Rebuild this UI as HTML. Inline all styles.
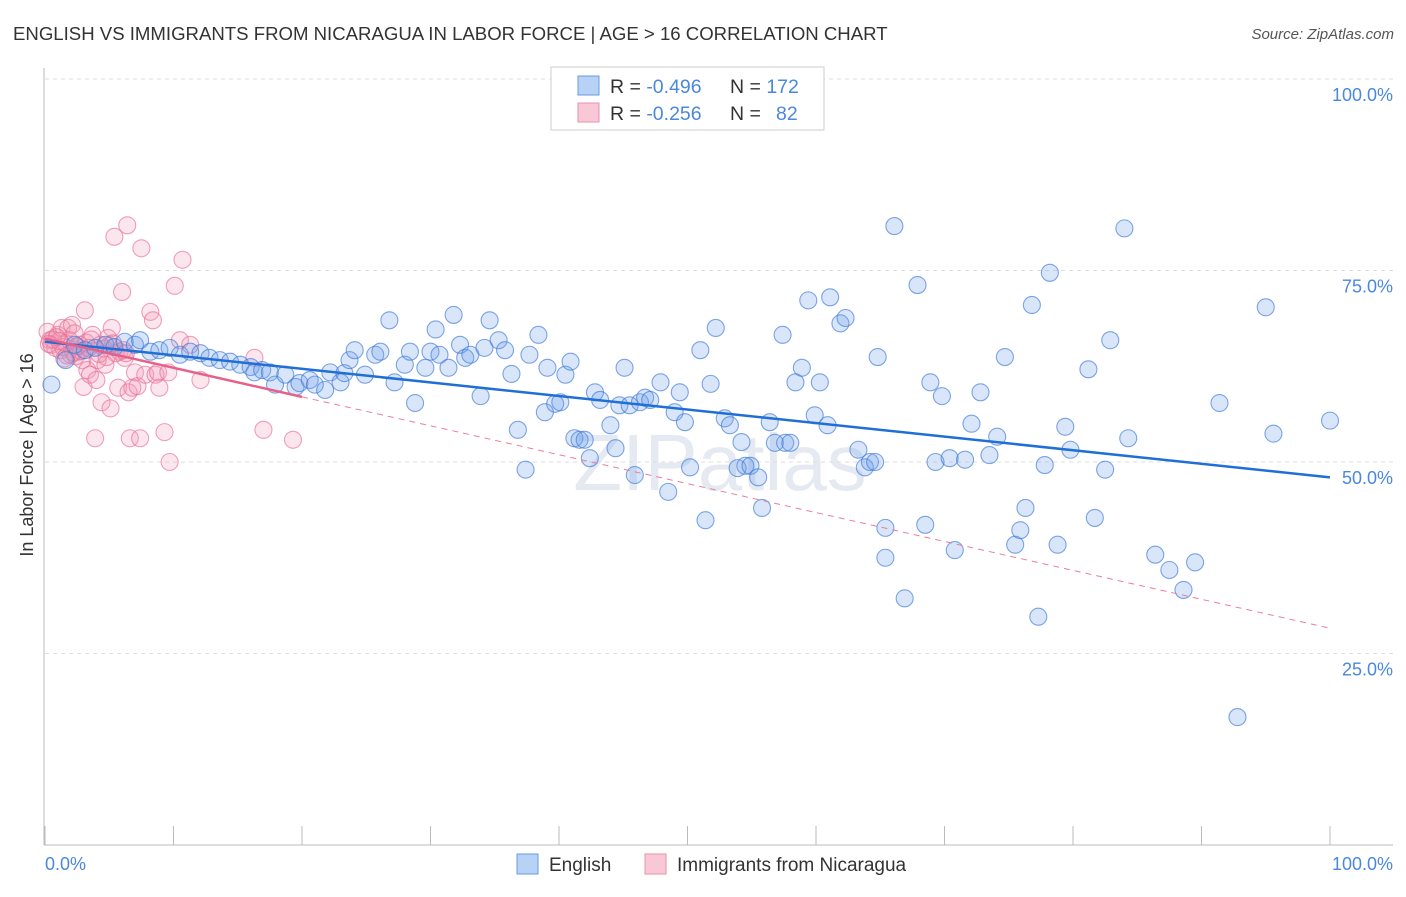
<!DOCTYPE html>
<html><head><meta charset="utf-8"><style>
body{margin:0;background:#fff;font-family:"Liberation Sans",sans-serif}
svg text{font-family:"Liberation Sans",sans-serif}
</style></head><body>
<svg id="chart" width="1406" height="892" viewBox="0 0 1406 892" xmlns="http://www.w3.org/2000/svg">
<text x="13" y="40" font-size="18.6" fill="#333">ENGLISH VS IMMIGRANTS FROM NICARAGUA IN LABOR FORCE | AGE &gt; 16 CORRELATION CHART</text>
<text x="1394" y="39" font-size="15" fill="#555" text-anchor="end" font-style="italic">Source: ZipAtlas.com</text>
<text x="720" y="490" font-size="80" fill="#ccd6e6" opacity="0.5" text-anchor="middle" font-family="Liberation Serif">ZIPatlas</text>
<g id="grid"></g>
<g id="axes"></g>
<g id="pts"></g>
<g id="trends"></g>
<text transform="translate(33,455) rotate(-90)" font-size="18" fill="#333" text-anchor="middle">In Labor Force | Age &gt; 16</text>
<text x="45" y="870" font-size="18" fill="#4a88de">0.0%</text>
<text x="1393" y="870" font-size="18" fill="#4a88de" text-anchor="end">100.0%</text>
<g>
<rect x="551" y="67" width="273" height="63" fill="#fff" stroke="#ccc"/>
<rect x="578" y="76" width="21" height="19" fill="#b8d2f5" stroke="#6a9ae0"/>
<rect x="578" y="103" width="21" height="19" fill="#f8c8d6" stroke="#ec8fae"/>
<text x="610" y="93" font-size="19.5" fill="#333">R = <tspan fill="#4a88de">-0.496</tspan><tspan x="730">N = </tspan><tspan fill="#4a88de">172</tspan></text>
<text x="610" y="120" font-size="19.5" fill="#333">R = <tspan fill="#4a88de">-0.256</tspan><tspan x="730">N = </tspan><tspan fill="#4a88de" x="776">82</tspan></text>
</g>
<g>
<rect x="517" y="854" width="21" height="20" fill="#b8d2f5" stroke="#6a9ae0"/>
<text x="549" y="871" font-size="19" fill="#333">English</text>
<rect x="645" y="854" width="21" height="20" fill="#f8c8d6" stroke="#ec8fae"/>
<text x="677" y="871" font-size="19" fill="#333">Immigrants from Nicaragua</text>
</g>
</svg>
<script>
const yTicks=[25,50,75,100];
const yTickLabels=["25.0%","50.0%","75.0%","100.0%"];
const englishX=[0.5,1.6,2.3,3.1,3.9,4.7,5.4,6.2,7.0,7.4,8.2,8.9,9.7,10.5,11.3,12.1,12.8,13.6,14.4,15.2,16.0,16.3,16.9,17.5,17.9,18.7,19.5,19.8,20.6,21.0,21.8,22.2,23.0,23.3,23.7,24.1,24.9,25.7,26.1,26.8,27.2,28.0,28.4,28.8,29.6,30.0,30.4,30.7,31.4,31.8,32.3,32.7,33.1,33.9,34.2,34.6,35.3,35.8,36.3,36.8,37.4,37.7,38.4,38.9,39.1,39.7,40.1,40.5,40.9,41.2,41.6,42.0,42.4,42.8,43.2,44.0,44.4,44.7,45.1,45.5,45.9,46.3,46.7,47.1,47.9,48.5,49.0,49.4,49.8,50.2,51.0,51.4,51.8,52.2,52.9,53.3,53.9,54.2,54.5,54.9,55.5,55.8,56.4,56.8,57.4,57.6,58.0,58.4,58.9,59.4,59.9,60.3,60.9,61.1,61.9,62.3,63.3,63.8,64.2,64.6,64.8,65.4,65.4,66.1,66.9,67.9,68.5,68.9,69.3,69.8,70.4,70.8,71.6,72.1,72.8,73.5,74.1,74.7,75.5,75.9,76.3,76.8,77.3,77.8,78.2,78.8,79.4,79.8,81.2,81.7,82.5,82.9,84.0,84.3,86.4,87.5,88.6,89.5,91.4,92.8,95.0,95.6,100];
const englishY=[60.1,63.3,65.3,64.6,64.9,65.3,65.0,65.7,65.3,65.9,64.4,64.6,64.9,64.0,64.4,64.2,63.6,63.3,63.1,62.7,62.4,61.7,62.0,61.7,60.1,61.4,59.8,60.3,60.7,60.1,59.4,61.7,60.4,61.6,63.3,64.6,61.4,64.0,64.4,68.5,60.4,62.7,64.4,57.7,62.3,64.4,67.3,64.0,62.3,69.2,65.3,63.6,64.0,58.6,64.9,68.5,65.9,64.6,61.5,54.2,49.0,64.0,66.6,56.5,62.3,57.6,57.8,61.4,63.1,53.1,52.9,52.9,50.5,59.1,58.1,54.8,51.8,57.4,62.3,57.4,48.3,57.8,58.4,58.1,60.4,46.1,56.5,59.1,55.2,49.3,64.6,42.4,60.2,67.5,55.7,54.8,49.2,52.6,49.5,49.5,48.0,44.0,55.2,52.5,66.6,52.5,52.5,60.4,62.3,71.1,56.1,60.4,54.8,71.5,68.1,68.8,51.6,49.3,50.0,50.0,63.7,41.4,37.5,80.8,32.2,73.1,41.8,60.4,50.0,58.6,50.5,38.5,50.3,55.0,59.1,50.9,53.3,63.7,39.2,41.1,44.0,70.5,29.8,49.6,74.7,39.2,54.6,51.6,62.1,42.7,49.0,65.9,80.5,53.1,37.9,35.9,33.3,36.9,57.7,16.7,70.2,53.7,55.4];
const nicX=[0.2,0.4,0.5,0.8,1.0,1.2,1.3,1.6,1.8,1.9,2.1,2.3,2.6,2.7,2.9,3.0,3.1,3.3,3.5,3.7,3.9,4.0,4.1,4.3,4.4,4.7,4.9,5.1,5.2,5.4,5.7,5.8,6.0,6.2,6.4,6.5,6.6,6.8,7.0,7.2,7.4,7.5,7.8,8.2,8.4,8.6,8.8,8.9,9.3,9.6,9.7,10.1,10.5,10.7,11.3,12.1,16.3,17.0,19.3,0.6,1.4,2.0,2.4,3.2,4.6,5.5,0.9,1.7,2.8,3.6,4.2,5.0,6.1,1.1,2.2,3.4,0.3,1.5,2.5,4.8,5.3,6.3];
const nicY=[67.0,65.9,65.3,64.9,66.6,64.6,67.5,65.5,67.5,65.9,67.9,66.8,64.4,65.3,63.3,59.8,69.8,62.0,61.4,66.6,53.1,60.7,63.3,65.3,57.8,62.7,66.2,57.0,67.5,79.4,59.7,64.4,72.2,63.6,80.9,59.1,53.1,59.7,61.7,59.9,53.1,77.9,61.4,69.6,68.5,61.4,61.7,59.7,53.9,61.7,50.0,73.0,65.9,76.4,65.3,60.7,63.6,54.2,52.9,66.0,65.0,64.0,63.8,65.6,64.8,64.2,66.3,63.9,64.5,66.0,64.1,65.2,64.6,65.8,64.3,64.9,65.4,63.5,65.1,63.7,65.5,64.2];
const trendBlue=[[0,65.7],[100,48.0]];
const trendPinkSolid=[[0,66.1],[20,58.5]];
const trendPinkDash=[[20,58.5],[100,28.3]];
const NS="http://www.w3.org/2000/svg";
const xs=v=>45+v*12.85, ys=v=>845-v*7.66;
function mk(tag,attrs,parent){const e=document.createElementNS(NS,tag);for(const k in attrs)e.setAttribute(k,attrs[k]);parent.appendChild(e);return e;}
const grid=document.getElementById('grid'),axes=document.getElementById('axes'),pts=document.getElementById('pts'),tr=document.getElementById('trends');
yTicks.forEach((t,i)=>{
 const l=mk('line',{x1:45,x2:1393,y1:ys(t),y2:ys(t),stroke:'#ddd','stroke-dasharray':'4,4'},grid);
 
 
 const tx=mk('text',{x:1393,y:ys(t)+22,'font-size':18,fill:'#4a88de','text-anchor':'end'},grid);
 tx.textContent=yTickLabels[i];
 
 
});
const ax=mk('line',{x1:44,x2:44,y1:68,y2:845,stroke:'#bbb'},axes);


const bx=mk('line',{x1:44,x2:1393,y1:845,y2:845,stroke:'#bbb'},axes);


for(let i=0;i<=10;i++){const t=mk('line',{x1:xs(i*10),x2:xs(i*10),y1:826,y2:845,stroke:'#bbb'},axes);
 
 }
function dots(X,Y,fill,stroke,name){X.forEach((x,i)=>{const c=mk('circle',{cx:xs(x),cy:ys(Y[i]),r:8.5,fill:fill,stroke:stroke,'stroke-width':1.1},pts);
 
 });}
dots(nicX,nicY,'rgba(244,150,180,0.24)','rgba(232,110,150,0.65)','nicaragua-point');
dots(englishX,englishY,'rgba(110,160,235,0.26)','rgba(60,120,215,0.65)','english-point');
function ln(p,stroke,w,dash,name){const l=mk('line',{x1:xs(p[0][0]),y1:ys(p[0][1]),x2:xs(p[1][0]),y2:ys(p[1][1]),stroke:stroke,'stroke-width':w},tr);if(dash)l.setAttribute('stroke-dasharray',dash);
 
 }
ln(trendPinkDash,'#e87fa0',1,'6,5','nicaragua-trend-dashed');
ln(trendBlue,'#1f6fd6',2.5,null,'english-trend-line');
ln(trendPinkSolid,'#e8608a',2.5,null,'nicaragua-trend-line');
</script>
</body></html>
